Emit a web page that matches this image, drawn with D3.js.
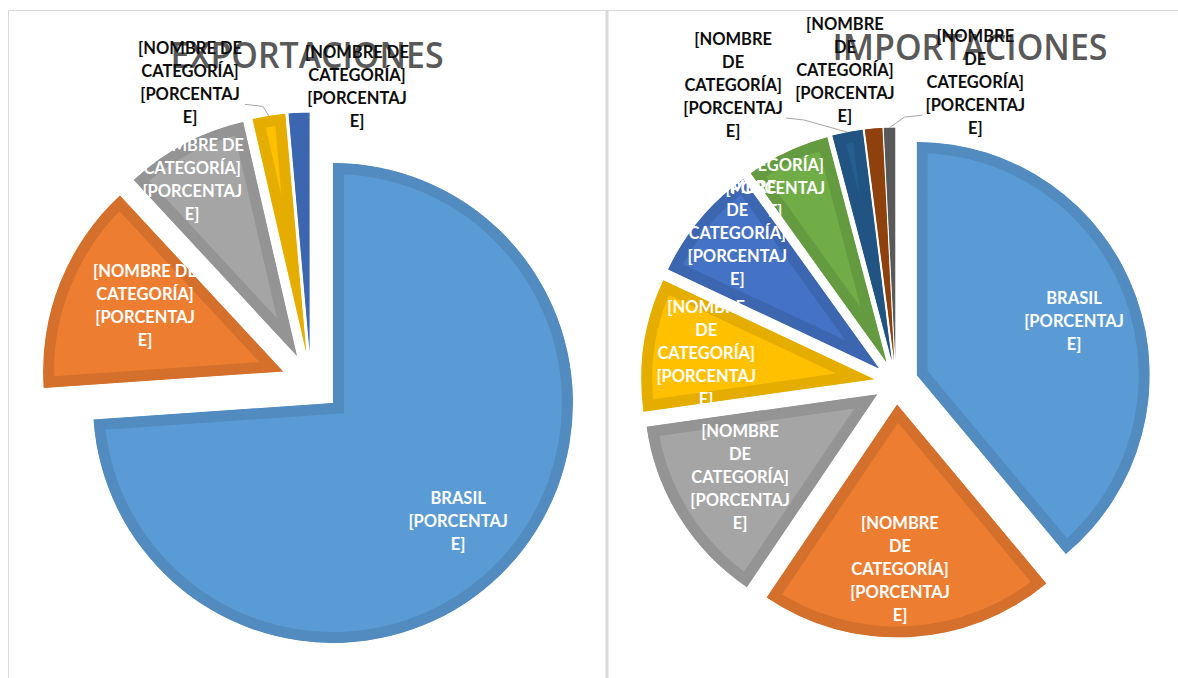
<!DOCTYPE html>
<html>
<head>
<meta charset="utf-8">
<script src="https://cdn.jsdelivr.net/npm/d3@7"></script>
<style>
body { margin: 0; background: #fff; }
svg { display: block; font-family: Lato, 'Open Sans', sans-serif; }
</style>
</head>
<body>
<div id="chart"></div>
<script>
// Data (shares in %)
const expCategories = ['BRASIL', '[NOMBRE DE CATEGORÍA]', '[NOMBRE DE CATEGORÍA]', '[NOMBRE DE CATEGORÍA]', '[NOMBRE DE CATEGORÍA]'];
const expValues = [73.9, 14.2, 8.3, 2.2, 1.4];

const impCategories = ['BRASIL', '[NOMBRE DE CATEGORÍA]', '[NOMBRE DE CATEGORÍA]', '[NOMBRE DE CATEGORÍA]', '[NOMBRE DE CATEGORÍA]',
    '[NOMBRE DE CATEGORÍA]', '[NOMBRE DE CATEGORÍA]', '[NOMBRE DE CATEGORÍA]', '[NOMBRE DE CATEGORÍA]'];
const impValues = [38.9, 20.5, 13.3, 9.2, 8.1, 5.8, 2.1, 1.2, 0.8];

// label text as Excel wrapped it
const valueText = ['[PORCENTAJ', 'E]'];
const expNameLines = expCategories.map(c => c == 'BRASIL' ? ['BRASIL'] : ['[NOMBRE DE', 'CATEGORÍA]']);
const impNameLines = impCategories.map(c => c == 'BRASIL' ? ['BRASIL'] : ['[NOMBRE', 'DE', 'CATEGORÍA]']);

const colours = ['#5b9bd5', '#ed7d31', '#a5a5a5', '#ffc000', '#4472c4', '#70ad47', '#255e91', '#9e480e', '#636363'];

//label placement: [angle in degrees, distance as share of radius]
const expLabelPos = [[133.3, 0.717], [295.4, 0.637], [329.3, 0.855], [336.7, 1.225], [10.1, 1.124]];
const impLabelPos = [[71, 0.714], [179, 0.706], [238.9, 0.688], [278.9, 0.73], [313.7, 0.842],
    [330.6, 0.974], [330.1, 1.366], [350.4, 1.265], [16, 1.243]];

const WIDTH = 1178;
const HEIGHT = 678;
const LINE = 23;
const BAND = 11;

let svg = d3.select('#chart')
.append('svg')
.attr('width', WIDTH)
.attr('height', HEIGHT);

//chart frames
svg.append('path')
.attr('d', 'M8.5,' + HEIGHT + 'V10.5H' + WIDTH)
.attr('fill', 'none')
.attr('stroke', '#d9d9d9');

svg.append('line')
.attr('x1', 607).attr('x2', 607)
.attr('y1', 10).attr('y2', HEIGHT)
.attr('stroke', '#d9d9d9')
.attr('stroke-width', 3);

const charts = [
    {id: 'exp', title: 'EXPORTACIONES', values: expValues, names: expNameLines, labelPos: expLabelPos, leaders: [3],
     cx: 311, cy: 382.5, r: 240, explode: 30, titleX: 307, titleY: 68, titleLen: 273},
    {id: 'imp', title: 'IMPORTACIONES', values: impValues, names: impNameLines, labelPos: impLabelPos, leaders: [6, 8],
     cx: 896, cy: 382.5, r: 233, explode: 22, titleX: 970, titleY: 60, titleLen: 275}
];

const dir = a => [Math.sin(a), -Math.cos(a)];

function drawPie(c) {
    let g = svg.append('g');
    const pieData = d3.pie().sort(null).value(d => d)(c.values);
    const arc = d3.arc().innerRadius(0).outerRadius(c.r);

    pieData.forEach(p => {
        p.mid = (p.startAngle + p.endAngle) / 2;
        const [dx, dy] = dir(p.mid);
        p.ox = c.cx + c.explode * dx;
        p.oy = c.cy + c.explode * dy;
    });

    let slices = g.selectAll('g.slice')
    .data(pieData)
    .join('g')
    .attr('class', 'slice')
    .attr('transform', d => `translate(${d.ox},${d.oy})`);

    slices.append('clipPath')
    .attr('id', (d, i) => `${c.id}-clip-${i}`)
    .append('path')
    .attr('d', arc);

    //border sits inside the slice, so clip a double-width stroke
    slices.append('path')
    .attr('d', arc)
    .attr('fill', (d, i) => colours[i])
    .attr('stroke', (d, i) => d3.color(colours[i]).darker(0.3))
    .attr('stroke-width', BAND * 2)
    .attr('clip-path', (d, i) => `url(#${c.id}-clip-${i})`);

    //title
    svg.append('text')
    .attr('x', c.titleX)
    .attr('y', c.titleY)
    .attr('text-anchor', 'middle')
    .attr('textLength', c.titleLen)
    .attr('lengthAdjust', 'spacingAndGlyphs')
    .style('font-family', "'Open Sans', sans-serif")
    .style('font-size', '36px')
    .style('font-weight', 600)
    .style('fill', '#595959')
    .text(c.title);

    //labels
    pieData.forEach((p, i) => {
        const [ang, rf] = c.labelPos[i];
        const [dx, dy] = dir(ang * Math.PI / 180);
        const lx = p.ox + rf * c.r * dx;
        const ly = p.oy + rf * c.r * dy;
        const lines = c.names[i].concat(valueText);
        const inside = rf < 1;
        const top = ly - (lines.length - 1) / 2 * LINE;

        let t = svg.append('text')
        .attr('text-anchor', 'middle')
        .style('font-size', '16.5px')
        .style('font-weight', 'bold')
        .style('fill', inside ? '#fff' : '#0d0d0d');

        lines.forEach((line, j) => {
            t.append('tspan')
            .attr('x', lx)
            .attr('y', top + j * LINE + 6)
            .text(line);
        });

        if (c.leaders.includes(i)) {
            const [ex, ey] = dir(p.mid);
            const endX = p.ox + c.r * ex;
            const endY = p.oy + c.r * ey;
            const halfW = t.node().getBBox().width / 2;
            const startY = top + (lines.length - 1) * LINE - 13;
            const side = endX > lx ? 1 : -1;
            const startX = lx + side * (halfW + 3);
            const elbowX = startX + side * 18;
            svg.append('polyline')
            .attr('points', [[startX, startY], [elbowX, startY + 2], [endX, endY]].join(' '))
            .attr('fill', 'none')
            .attr('stroke', '#a6a6a6')
            .attr('stroke-width', 1);
        }
    });
}

charts.forEach(drawPie);
</script>
</body>
</html>
